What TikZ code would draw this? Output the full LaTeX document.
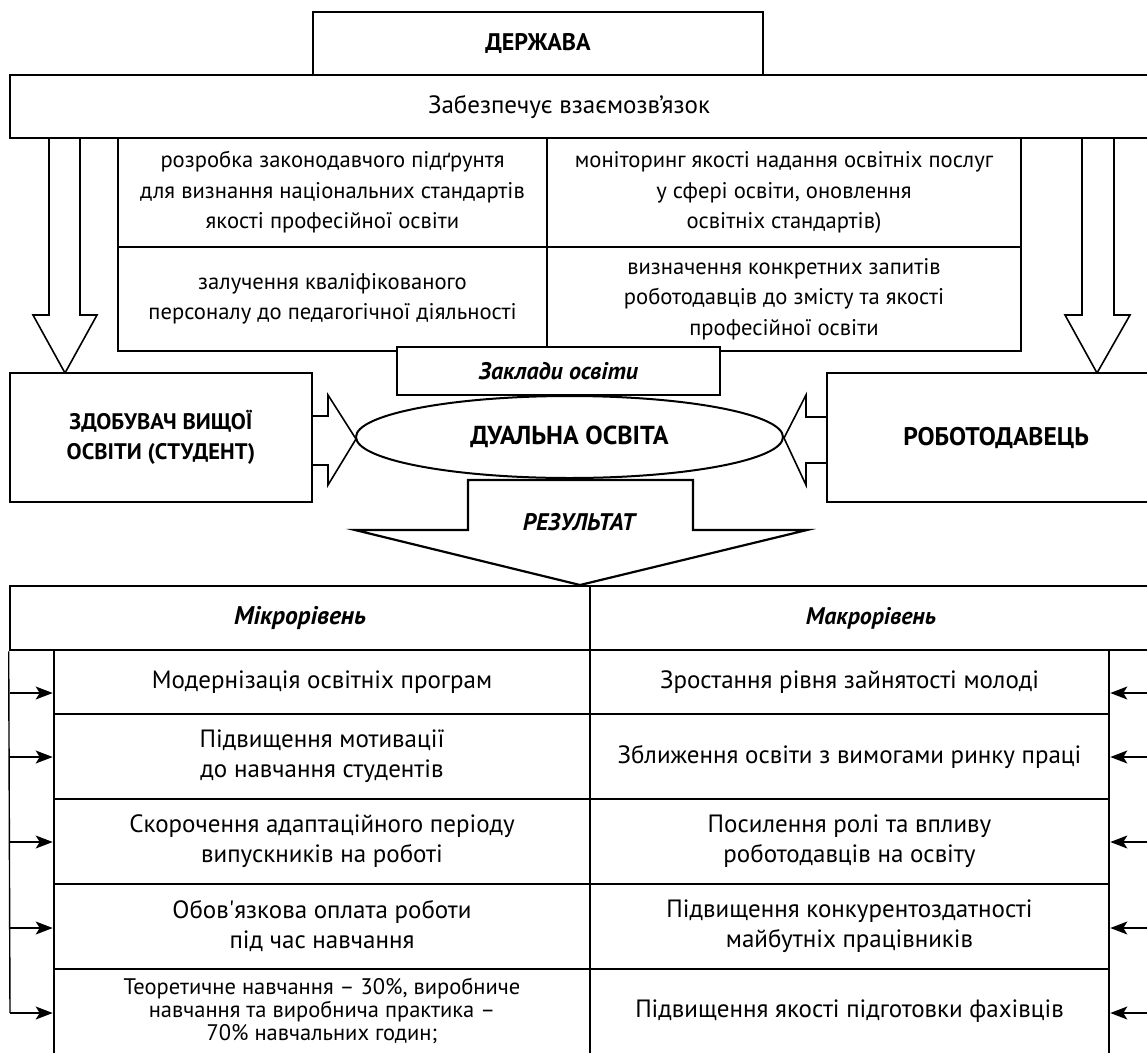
\documentclass[tikz,border=0pt]{standalone}
\usepackage{fontspec}
\setmainfont{PT Sans}
\usetikzlibrary{arrows.meta,shapes.geometric}

\tikzset{
  box/.style={draw, line width=2.6pt, fill=white, inner sep=0pt, align=center},
  hollow/.style={draw, line width=1.6pt, fill=white, line join=miter},
  tip/.style={-{Stealth[length=17pt,width=13pt,inset=4pt]}, line width=1.4pt},
  txt/.style={font=\fontsize{25}{30}\selectfont},
  small/.style={font=\fontsize{22.6}{30.5}\selectfont},
  bold/.style={font=\fontsize{24}{30}\selectfont\bfseries},
  ital/.style={font=\fontsize{24}{30}\selectfont\bfseries\itshape},
}

\begin{document}
\begin{tikzpicture}[x=1pt,y=1pt,yscale=-1,xscale=1]
\useasboundingbox (0,0) rectangle (1147,1052);
\clip (0,0) rectangle (1147,1052);

% State
\node[box, bold, minimum width=450, minimum height=63] (state) at (538,43.5) {ДЕРЖАВА};
% Link bar
\node[box, minimum width=1155, minimum height=63] (link) at (587.5,106.5) {};
\node[txt] (linktxt) at (569,107) {Забезпечує взаємозв’язок};

% Down arrows
\draw[hollow] (49,138) -- (80,138) -- (80,315) -- (97,315) -- (65,373) -- (33,315) -- (49,315) -- cycle;
\draw[hollow] (1082,138) -- (1114,138) -- (1114,315) -- (1130,315) -- (1097,373) -- (1065,315) -- (1082,315) -- cycle;

% Tasks
\node[box, small, minimum width=429, minimum height=109] (g1) at (332.5,192.5) {розробка законодавчого підґрунтя\\для визнання національних стандартів\\якості професійної освіти};
\node[box, small, minimum width=474, minimum height=109] (g2) at (784,192.5) {моніторинг якості надання освітніх послуг\\у сфері освіти, оновлення\\освітніх стандартів)};
\node[box, small, minimum width=429, minimum height=104] (g3) at (332.5,299) {залучення кваліфікованого\\персоналу до педагогічної діяльності};
\node[box, small, minimum width=474, minimum height=104] (g4) at (784,299) {визначення конкретних запитів\\роботодавців до змісту та якості\\професійної освіти};

% Institutions
\node[box, ital, minimum width=323, minimum height=48] (inst) at (558.5,371) {Заклади освіти};

% Student and employer
\node[box, minimum width=302, minimum height=129, font=\fontsize{22.5}{30}\selectfont\bfseries] (stud) at (161,437.5) {ЗДОБУВАЧ ВИЩОЇ\\ОСВІТИ (СТУДЕНТ)};
\node[box, minimum width=338, minimum height=129, font=\fontsize{25.5}{30}\selectfont\bfseries] (empl) at (996,437.5) {РОБОТОДАВЕЦЬ};

% Side arrows
\draw[hollow] (312,416) -- (328,416) -- (328,395) -- (356,439) -- (328,485) -- (328,465) -- (312,465) -- cycle;
\draw[hollow] (827,417) -- (806,417) -- (806,395) -- (784,438) -- (806,485) -- (806,463) -- (827,463) -- cycle;

% Result arrow
\draw[hollow, line width=2.2pt] (468,480) -- (693,480) -- (693,530) -- (807,530) -- (580,585) -- (355,530) -- (468,530) -- cycle;
\node[ital] (res) at (579,522) {РЕЗУЛЬТАТ};

% Dual education
\node[ellipse, draw, line width=2pt, fill=white, minimum width=427, minimum height=82, inner sep=0pt, font=\fontsize{26}{30}\selectfont\bfseries] (dual) at (569.5,437) {ДУАЛЬНА ОСВІТА};

% Levels
\node[box, minimum width=580, minimum height=64, font=\fontsize{25.5}{30}\selectfont\bfseries\itshape] (micro) at (300,618) {Мікрорівень};
\node[box, ital, minimum width=562, minimum height=64] (macro) at (871,618) {Макрорівень};

% Micro level
\node[box, txt, minimum width=536, minimum height=64] (m1) at (322,682) {Модернізація освітніх програм};
\node[box, txt, minimum width=536, minimum height=85] (m2) at (322,756.5) {Підвищення мотивації\\до навчання студентів};
\node[box, txt, minimum width=536, minimum height=85] (m3) at (322,841.5) {Скорочення адаптаційного періоду\\випускників на роботі};
\node[box, txt, minimum width=536, minimum height=85] (m4) at (322,926.5) {Обов\textquotesingle язкова оплата роботи\\під час навчання};
\node[box, minimum width=536, minimum height=85, font=\fontsize{22.5}{23}\selectfont] (m5) at (322,1011.5) {Теоретичне навчання – 30\%, виробниче\\навчання та виробнича практика –\\70\% навчальних годин;};

% Macro level
\node[box, txt, minimum width=519, minimum height=64] (n1) at (849.5,682) {Зростання рівня зайнятості молоді};
\node[box, txt, minimum width=519, minimum height=85] (n2) at (849.5,756.5) {Зближення освіти з вимогами ринку праці};
\node[box, txt, minimum width=519, minimum height=85] (n3) at (849.5,841.5) {Посилення ролі та впливу\\роботодавців на освіту};
\node[box, txt, minimum width=519, minimum height=85] (n4) at (849.5,926.5) {Підвищення конкурентоздатності\\майбутніх працівників};
\node[box, txt, minimum width=519, minimum height=85] (n5) at (849.5,1011.5) {Підвищення якості підготовки фахівців};

% Brackets
\coordinate (l1) at (10,693);
\coordinate (l2) at (10,757);
\coordinate (l3) at (10,842);
\coordinate (l4) at (10,928);
\coordinate (l5) at (10,1013);
\coordinate (r1) at (1152,693);
\coordinate (r2) at (1152,757);
\coordinate (r3) at (1152,842);
\coordinate (r4) at (1152,928);
\coordinate (r5) at (1152,1013);
\draw[line width=1.4pt] (micro.south west) -- (l5);
\draw[line width=1.4pt] (macro.south east) -- (r5);
\foreach \i in {1,...,5}{
  \draw[tip] (l\i) -- (l\i -| m\i.west);
  \draw[tip] (r\i) -- (r\i -| n\i.east);
}

\end{tikzpicture}
\end{document}
